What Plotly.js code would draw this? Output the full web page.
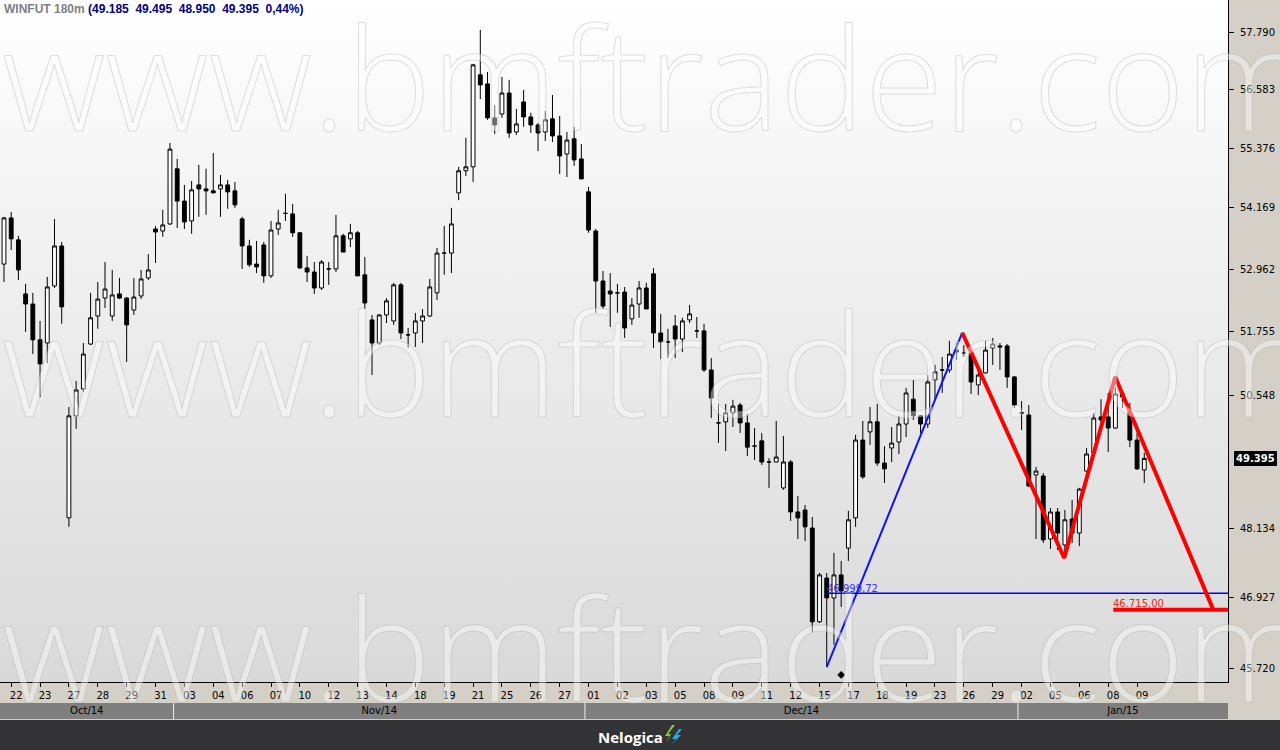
<!DOCTYPE html>
<html><head><meta charset="utf-8">
<script src="https://cdn.plot.ly/plotly-3.0.1.min.js"></script>
<style>html,body{margin:0;padding:0;background:#d4d0c8;overflow:hidden}#chart{width:1280px;height:750px}</style>
</head><body><div id="chart"></div>
<script>
// ---- data (WINFUT 180m candles, values in index points) ----
const opens = [53060,53970,53535,52480,52285,51600,51540,52635,53415,48325,50175,50675,51520,52055,52400,52055,52480,52400,52170,52440,52790,53750,53710,53850,54955,54305,53910,54630,54550,54510,54550,54630,54510,53950,53415,53060,53435,52830,53750,54060,54050,53675,52985,52905,52595,52965,52965,53615,53555,53675,52850,51980,51540,52075,51960,52655,51695,51730,51960,52055,52500,53275,53275,54470,54915,54995,56890,56700,55995,56075,56510,55705,56325,56015,55850,55705,55975,55625,55255,55565,55155,54490,53710,52730,52535,52500,52515,52000,52285,52595,52870,51730,51560,51865,51615,51980,51770,51770,51030,50045,50065,50230,50375,50045,49620,49715,49330,49330,48860,49330,48430,48465,48145,46510,47265,46920,47320,47790,48325,49730,49880,50065,49310,49585,49695,50025,50485,50175,50025,50845,51030,51030,51405,51350,51350,50750,50975,51445,51485,51485,50900,50230,50190,49095,49075,47950,48430,47845,48305,48055,49165,49495,50155,50155,49950,50580,50245,49730,49185];
const highs = [53990,54090,53615,52675,52500,51960,52810,53950,53495,50340,50825,51540,52500,52710,53100,52945,52790,52420,52790,52945,53255,53810,54130,55480,55155,54630,54710,55035,54955,55275,54830,54730,54690,53990,53535,53515,53495,53910,54130,54450,54250,53690,53220,53100,53140,53100,54030,53655,53850,53710,53200,52075,52090,52400,52695,52695,51825,52115,52190,52770,53375,53810,54170,54995,55585,57120,57840,56950,56260,56845,56785,56180,56575,56100,55890,56140,56470,56035,55705,55810,55460,54590,53750,52925,52885,52675,52615,52400,52730,52695,52985,52095,51810,52075,52020,52265,52035,51905,51255,50395,50395,50470,50415,50210,49950,49860,49400,50080,49805,49365,48715,48555,48340,47355,47355,47705,47565,48450,49825,50080,50340,50395,49620,49970,50175,50695,50845,50190,50935,51125,51275,51580,51540,51500,51405,51030,51580,51635,51540,51520,50915,50450,50375,49240,49130,48500,48500,48465,48645,48860,49585,50230,50485,50600,50695,50620,50415,49860,49495];
const lows = [52710,53335,52750,51750,51330,50525,51160,52595,51905,48165,49935,50620,51500,51810,52210,51960,52380,51180,52075,52380,52750,53080,53595,53830,53770,53750,53655,53990,54030,54465,53990,54150,54170,52965,53005,52885,52695,52790,53635,53910,53595,52965,52710,52480,52555,52655,52905,53295,53395,52830,52190,50935,51500,51920,51885,51615,51445,51465,51540,52035,52360,52850,52885,54325,54810,54690,56385,55955,55665,55995,55585,55645,55810,55685,55315,55520,55500,54850,54790,55015,54750,53675,52115,52190,51845,52115,51635,51885,52020,52190,51445,51235,51255,51255,51370,51920,51635,50995,50135,49675,49530,49970,49860,49440,49365,49275,48860,49320,48825,48270,47950,47915,46335,46490,45740,46115,46765,47565,48165,49025,49640,49260,48950,49330,49475,49785,50100,49860,49950,50470,50600,50975,51220,51275,50580,50560,50960,51125,51030,50695,50320,49915,48880,47950,47880,47775,47755,47720,47880,47825,49130,49420,49970,49510,49935,50320,49600,49185,48950];
const closes = [53970,53555,52945,52285,51600,51145,52615,53415,52230,50175,50655,51330,52020,52380,52575,52460,52400,51885,52420,52770,52945,53690,53830,55355,54305,53890,54530,54550,54510,54470,54630,54490,54230,53415,53045,53005,52830,53730,53870,54060,53675,52985,52905,52595,53100,52965,53615,53295,53675,52830,52305,51540,52075,52345,52655,51730,51695,51960,52055,52615,53275,53275,53850,54915,54995,57100,56680,55995,55850,56510,55685,55870,56015,55850,55685,55955,55625,55215,55540,55135,54750,53730,52730,52245,52480,52500,51825,52265,52595,52190,51730,51560,51560,51615,51960,52095,51770,51030,50505,50045,50230,50355,50045,49600,49620,49330,49330,49420,49330,48430,48325,48165,46510,47320,46920,47320,47040,48290,49730,49060,50065,49310,49205,49675,50025,50600,50175,50025,50805,50995,51030,51330,51370,51350,50805,50935,51405,51520,51465,50900,50375,50230,48895,49165,47935,48430,48055,48290,48055,48840,49475,50135,50100,49950,50580,50525,49730,49205,49395];

const dayLabels = ['22','23','27','28','29','31','03','04','06','07','10','12','13','14','18','19','21','25','26','27','01','02','03','05','08','09','11','12','15','17','18','19','23','26','29','02','05','06','08','09'];
const dayTickIdx = [1,5,9,13,17,21,25,29,33,37,41,45,49,53,57,61,65,69,73,77,81,85,89,93,97,101,105,109,113,117,121,125,129,133,137,141,145,149,153,157];
const monthLabels = ['Oct/14','Nov/14','Dec/14','Jan/15'];
const monthBounds = [-0.55, 23.5, 80.5, 140.5, 169.6];

const yTickVals = [45720,46927,48134,50548,51755,52962,54169,55376,56583,57790];
const yTickText = ['45.720','46.927','48.134','50.548','51.755','52.962','54.169','55.376','56.583','57.790'];
const lastLabel = '49.395';
const headerSymbol = 'WINFUT 180m';
const headerValues = ['49.185','49.495','48.950','49.395','0,44%'];

// drawing objects (analyst lines)
const blueTrendX = [114, 132.78];
const blueTrendY = [45740, 51735];
const blueLevel = 46999.72, blueLevelLabel = '46.999,72';
const blueLevelX = [114, 172];
const redZigX = [132.78, 146.9, 153.98, 167.57];
const redZigY = [51735, 47616, 50900, 46715];
const redLevel = 46715, redLevelLabel = '46.715,00';
const redLevelX = [153.7, 172];
const markX = [116], markY = [45608];

const idx = opens.map((_, i) => i);
const PH = 719; // plot area height in px (for paper refs)

const traces = [
  {type:'candlestick', x: idx, open: opens, high: highs, low: lows, close: closes,
   increasing:{line:{color:'#000000', width:1}, fillcolor:'#ffffff'},
   decreasing:{line:{color:'#000000', width:1}, fillcolor:'#000000'},
   whiskerwidth:0, hoverinfo:'skip', xaxis:'x', yaxis:'y'},
  {type:'scatter', mode:'lines', x: blueTrendX, y: blueTrendY, line:{color:'#1010ff', width:2}, xaxis:'x', yaxis:'y'},
  {type:'scatter', mode:'lines', x: blueLevelX, y: [blueLevel, blueLevel], line:{color:'#0000ff', width:1.5}, xaxis:'x', yaxis:'y'},
  {type:'scatter', mode:'lines', x: redZigX, y: redZigY, line:{color:'#ff0000', width:4}, xaxis:'x', yaxis:'y'},
  {type:'scatter', mode:'lines', x: redLevelX, y: [redLevel, redLevel], line:{color:'#ff0000', width:4}, xaxis:'x', yaxis:'y'},
  {type:'scatter', mode:'markers', x: markX, y: markY, marker:{symbol:'diamond', size:6, color:'#000'}, xaxis:'x', yaxis:'y'},
  {type:'scatter', mode:'text', x: monthLabels.map((_, i) => (monthBounds[i] + monthBounds[i+1]) / 2), y: monthLabels.map(() => 0.5),
   text: monthLabels, textfont:{family:'DejaVu Sans', size:10, color:'#000'}, textposition:'middle center', cliponaxis:false, xaxis:'x2', yaxis:'y2'}
];

const gradSvg = "<svg xmlns='http://www.w3.org/2000/svg' width='100' height='100' viewBox='0 0 100 100' preserveAspectRatio='none'><defs><linearGradient id='g' x1='0' y1='0' x2='0' y2='1'><stop offset='0' stop-color='#ffffff'/><stop offset='1' stop-color='#d9d9d9'/></linearGradient></defs><rect width='100' height='100' fill='url(#g)'/></svg>";

const shapes = [];
monthLabels.forEach((m, i) => {
  shapes.push({type:'rect', xref:'x2', yref:'y2', x0: monthBounds[i], x1: monthBounds[i+1], y0:0, y1:1,
    fillcolor:'#7f7f7f', line:{width:0}, layer:'below'});
});
for (let i = 1; i < monthBounds.length - 1; i++) {
  shapes.push({type:'line', xref:'x2', yref:'y2', x0: monthBounds[i], x1: monthBounds[i], y0:0, y1:1,
    line:{color:'#eeeeee', width:1}, layer:'above'});
}
// footer band
shapes.push({type:'rect', xref:'paper', yref:'paper', x0:-0.01, x1:1.06, y0:-0.06, y1:-1/PH,
  fillcolor:'#333335', line:{width:0}, layer:'above'});
// small logo mark next to the brand name
const px = v => v / 1228, py = v => (PH - v) / PH;
shapes.push({type:'path', xref:'paper', yref:'paper', layer:'above', line:{width:0}, fillcolor:'#8dc63f',
  path:`M ${px(672)} ${py(725)} L ${px(665)} ${py(736)} L ${px(669)} ${py(736)} L ${px(666)} ${py(743)} L ${px(671)} ${py(734)} L ${px(668)} ${py(734)} L ${px(675)} ${py(725)} Z`});
shapes.push({type:'path', xref:'paper', yref:'paper', layer:'above', line:{width:0}, fillcolor:'#29abe2',
  path:`M ${px(679)} ${py(729)} L ${px(672)} ${py(739)} L ${px(676)} ${py(739)} L ${px(671)} ${py(745)} L ${px(681)} ${py(735)} L ${px(677)} ${py(735)} L ${px(682)} ${py(729)} Z`});

const wm = "<span style='stroke:rgba(170,170,170,0.35);stroke-width:1px'>www.bmftrader.com</span>";
const wmRows = [76, 361, 646];
const annotations = wmRows.map(cy => ({
  xref:'paper', yref:'paper', x:0, y:(PH - cy) / PH, xanchor:'left', yanchor:'middle', xshift:0,
  text: wm, showarrow:false,
  font:{family:'Open Sans', size:143, weight:300, color:'rgba(255,255,255,0.42)'}
}));
annotations.push({
  xref:'paper', yref:'paper', x:0, y:1, xanchor:'left', yanchor:'top', xshift:2, yshift:0, showarrow:false,
  text:`<b><span style='color:#808080'>${headerSymbol}</span> <span style='color:#000080'>(${headerValues.join('\u00a0\u00a0')})</span></b>`,
  font:{family:'Liberation Sans', size:12}
});
annotations.push({
  xref:'paper', yref:'y', x:1, y:Math.log10(closes[closes.length-1]), xanchor:'left', yanchor:'middle', xshift:6,
  text:`<b>${lastLabel}</b>`, showarrow:false, bgcolor:'#000000', borderpad:1, bordercolor:'#000', borderwidth:1,
  font:{family:'DejaVu Sans', size:10, color:'#ffffff'}
});
annotations.push({
  xref:'x', yref:'y', x: blueLevelX[0], y: Math.log10(blueLevel), xanchor:'left', yanchor:'bottom', xshift:-2, yshift:-3,
  text: blueLevelLabel, showarrow:false, font:{family:'DejaVu Sans', size:10, color:'#3030ff'}
});
annotations.push({
  xref:'x', yref:'y', x: redLevelX[0], y: Math.log10(redLevel), xanchor:'left', yanchor:'bottom', xshift:-2, yshift:-1,
  text: redLevelLabel, showarrow:false, font:{family:'DejaVu Sans', size:10, color:'#ff2020'}
});
annotations.push({
  xref:'paper', yref:'paper', x: 630/1228, y: py(737), xanchor:'center', yanchor:'middle', showarrow:false,
  text:'<b>Nelogica</b>', font:{family:'Open Sans', size:15, color:'#ffffff'}
});

const layout = {
  width:1280, height:750,
  margin:{l:0, r:52, t:0, b:31, pad:0},
  paper_bgcolor:'#d4d0c8', plot_bgcolor:'rgba(0,0,0,0)',
  showlegend:false, hovermode:false, separators:',.', boxgap:0.24,
  font:{family:'DejaVu Sans', size:10, color:'#000'},
  xaxis:{range:[monthBounds[0], monthBounds[monthBounds.length-1]], anchor:'y', tickmode:'array', tickvals:dayTickIdx, ticktext:dayLabels,
    ticks:'outside', ticklen:4, tickcolor:'#000', tickwidth:1, showline:true, linecolor:'#000', linewidth:1,
    showgrid:false, zeroline:false, tickfont:{family:'DejaVu Sans', size:10, color:'#000'}, ticklabelshift:5,
    rangeslider:{visible:false}, fixedrange:true},
  yaxis:{type:'log', side:'right', anchor:'x', domain:[37/PH, 1], range:[Math.log10(45490), Math.log10(58480)],
    tickmode:'array', tickvals:yTickVals, ticktext:yTickText, ticks:'outside', ticklen:5, tickcolor:'#000',
    showline:true, linecolor:'#000', linewidth:1, showgrid:false, zeroline:false,
    tickfont:{family:'DejaVu Sans', size:10, color:'#000'}, ticklabelstandoff:4, fixedrange:true},
  xaxis2:{matches:'x', anchor:'y2', showticklabels:false, ticks:'', showline:false, showgrid:false, zeroline:false},
  yaxis2:{domain:[0, 16/PH], range:[0,1], anchor:'x2', showticklabels:false, ticks:'', showline:false, showgrid:false, zeroline:false, fixedrange:true},
  images:[{source:'data:image/svg+xml;charset=utf-8,' + encodeURIComponent(gradSvg), xref:'x domain', yref:'y domain',
    x:0, y:1, sizex:1, sizey:1, xanchor:'left', yanchor:'top', sizing:'stretch', layer:'below'}],
  shapes: shapes,
  annotations: annotations
};

Plotly.newPlot('chart', traces, layout, {staticPlot:true, displayModeBar:false});
</script>
</body></html>
